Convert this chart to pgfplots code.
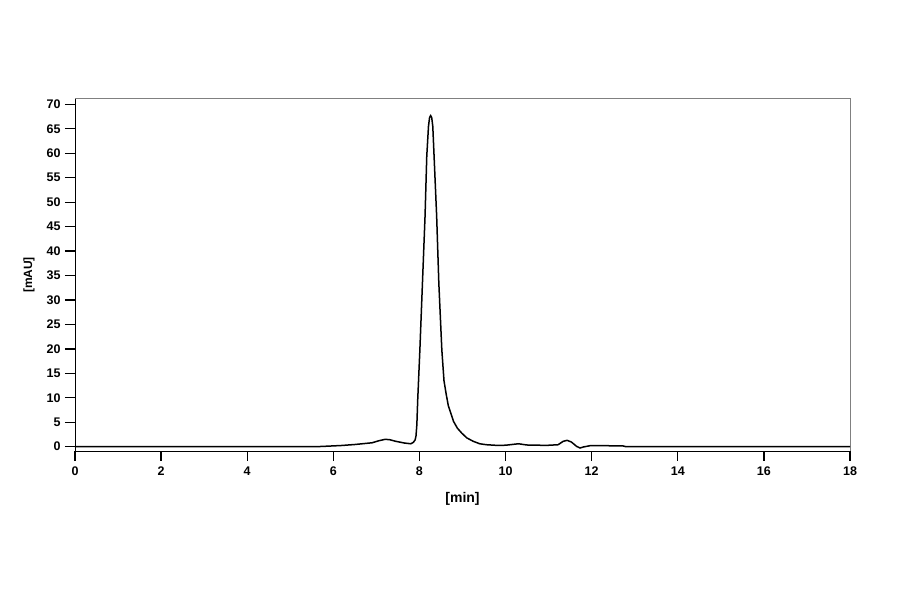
\documentclass[border=0pt]{standalone}
\usepackage{fontspec}
\setmainfont{Liberation Sans}
\usepackage{pgfplots}
\pgfplotsset{compat=1.18}
\usetikzlibrary{calc}

\pgfplotstableread{
t      au
0.00   0.00
5.60   0.00
5.90   0.12
6.20   0.25
6.50   0.45
6.90   0.80
7.05   1.20
7.20   1.50
7.30   1.45
7.45   1.10
7.65   0.75
7.80   0.60
7.86   0.90
7.90   1.40
7.92   2.20
7.94   4.50
7.96   9.60
8.01   19.8
8.07   33.5
8.13   47.1
8.17   59.4
8.21   65.5
8.235  67.3
8.26   67.7
8.285  67.3
8.31   65.5
8.34   59.4
8.40   47.1
8.45   33.5
8.52   19.8
8.57   13.5
8.62   10.8
8.67   8.40
8.75   6.30
8.79   5.20
8.88   3.80
8.98   2.80
9.10   1.80
9.25   1.10
9.40   0.60
9.56   0.40
9.80   0.27
10.00  0.30
10.10  0.40
10.30  0.60
10.49  0.35
10.95  0.27
11.22  0.40
11.34  1.10
11.43  1.30
11.53  0.95
11.65  0.07
11.73  -0.27
11.80  -0.07
11.96  0.20
12.35  0.20
12.73  0.15
12.80  0.00
18.00  0.00
}\chrom

\begin{document}
\begin{tikzpicture}
\begin{axis}[
    scale only axis,
    width=775pt,
    height=352pt,
    xmin=0, xmax=18,
    ymin=-0.88, ymax=71.1,
    xtick={0,2,...,18},
    ytick={0,5,...,70},
    axis x line*=bottom,
    axis y line*=left,
    x axis line style={-},
    y axis line style={-},
    every axis line/.append style={line width=1.3pt},
    tick align=outside,
    major tick length=10pt,
    every tick/.style={black, line width=1.3pt},
    /pgf/number format/assume math mode=true,
    tick label style={font=\fontsize{12.5}{14}\selectfont\bfseries},
    yticklabel style={xshift=-1pt},
    xticklabel style={yshift=-2pt},
    xlabel={[min]},
    ylabel={[mAU]},
    xlabel style={font=\fontsize{14}{16}\selectfont\bfseries, yshift=-10pt},
    ylabel style={font=\fontsize{12}{14}\selectfont\bfseries, yshift=5pt},
    clip=false,
]
\draw[gray, line width=1pt] (rel axis cs:0,1) -- (rel axis cs:1,1) -- (rel axis cs:1,0);
\addplot[black, line width=1.5pt] table[x=t, y=au] {\chrom};
\end{axis}
\useasboundingbox ($(current axis.south west)+(-75pt,-143pt)$) rectangle ++(900pt,594pt);
\end{tikzpicture}
\end{document}
